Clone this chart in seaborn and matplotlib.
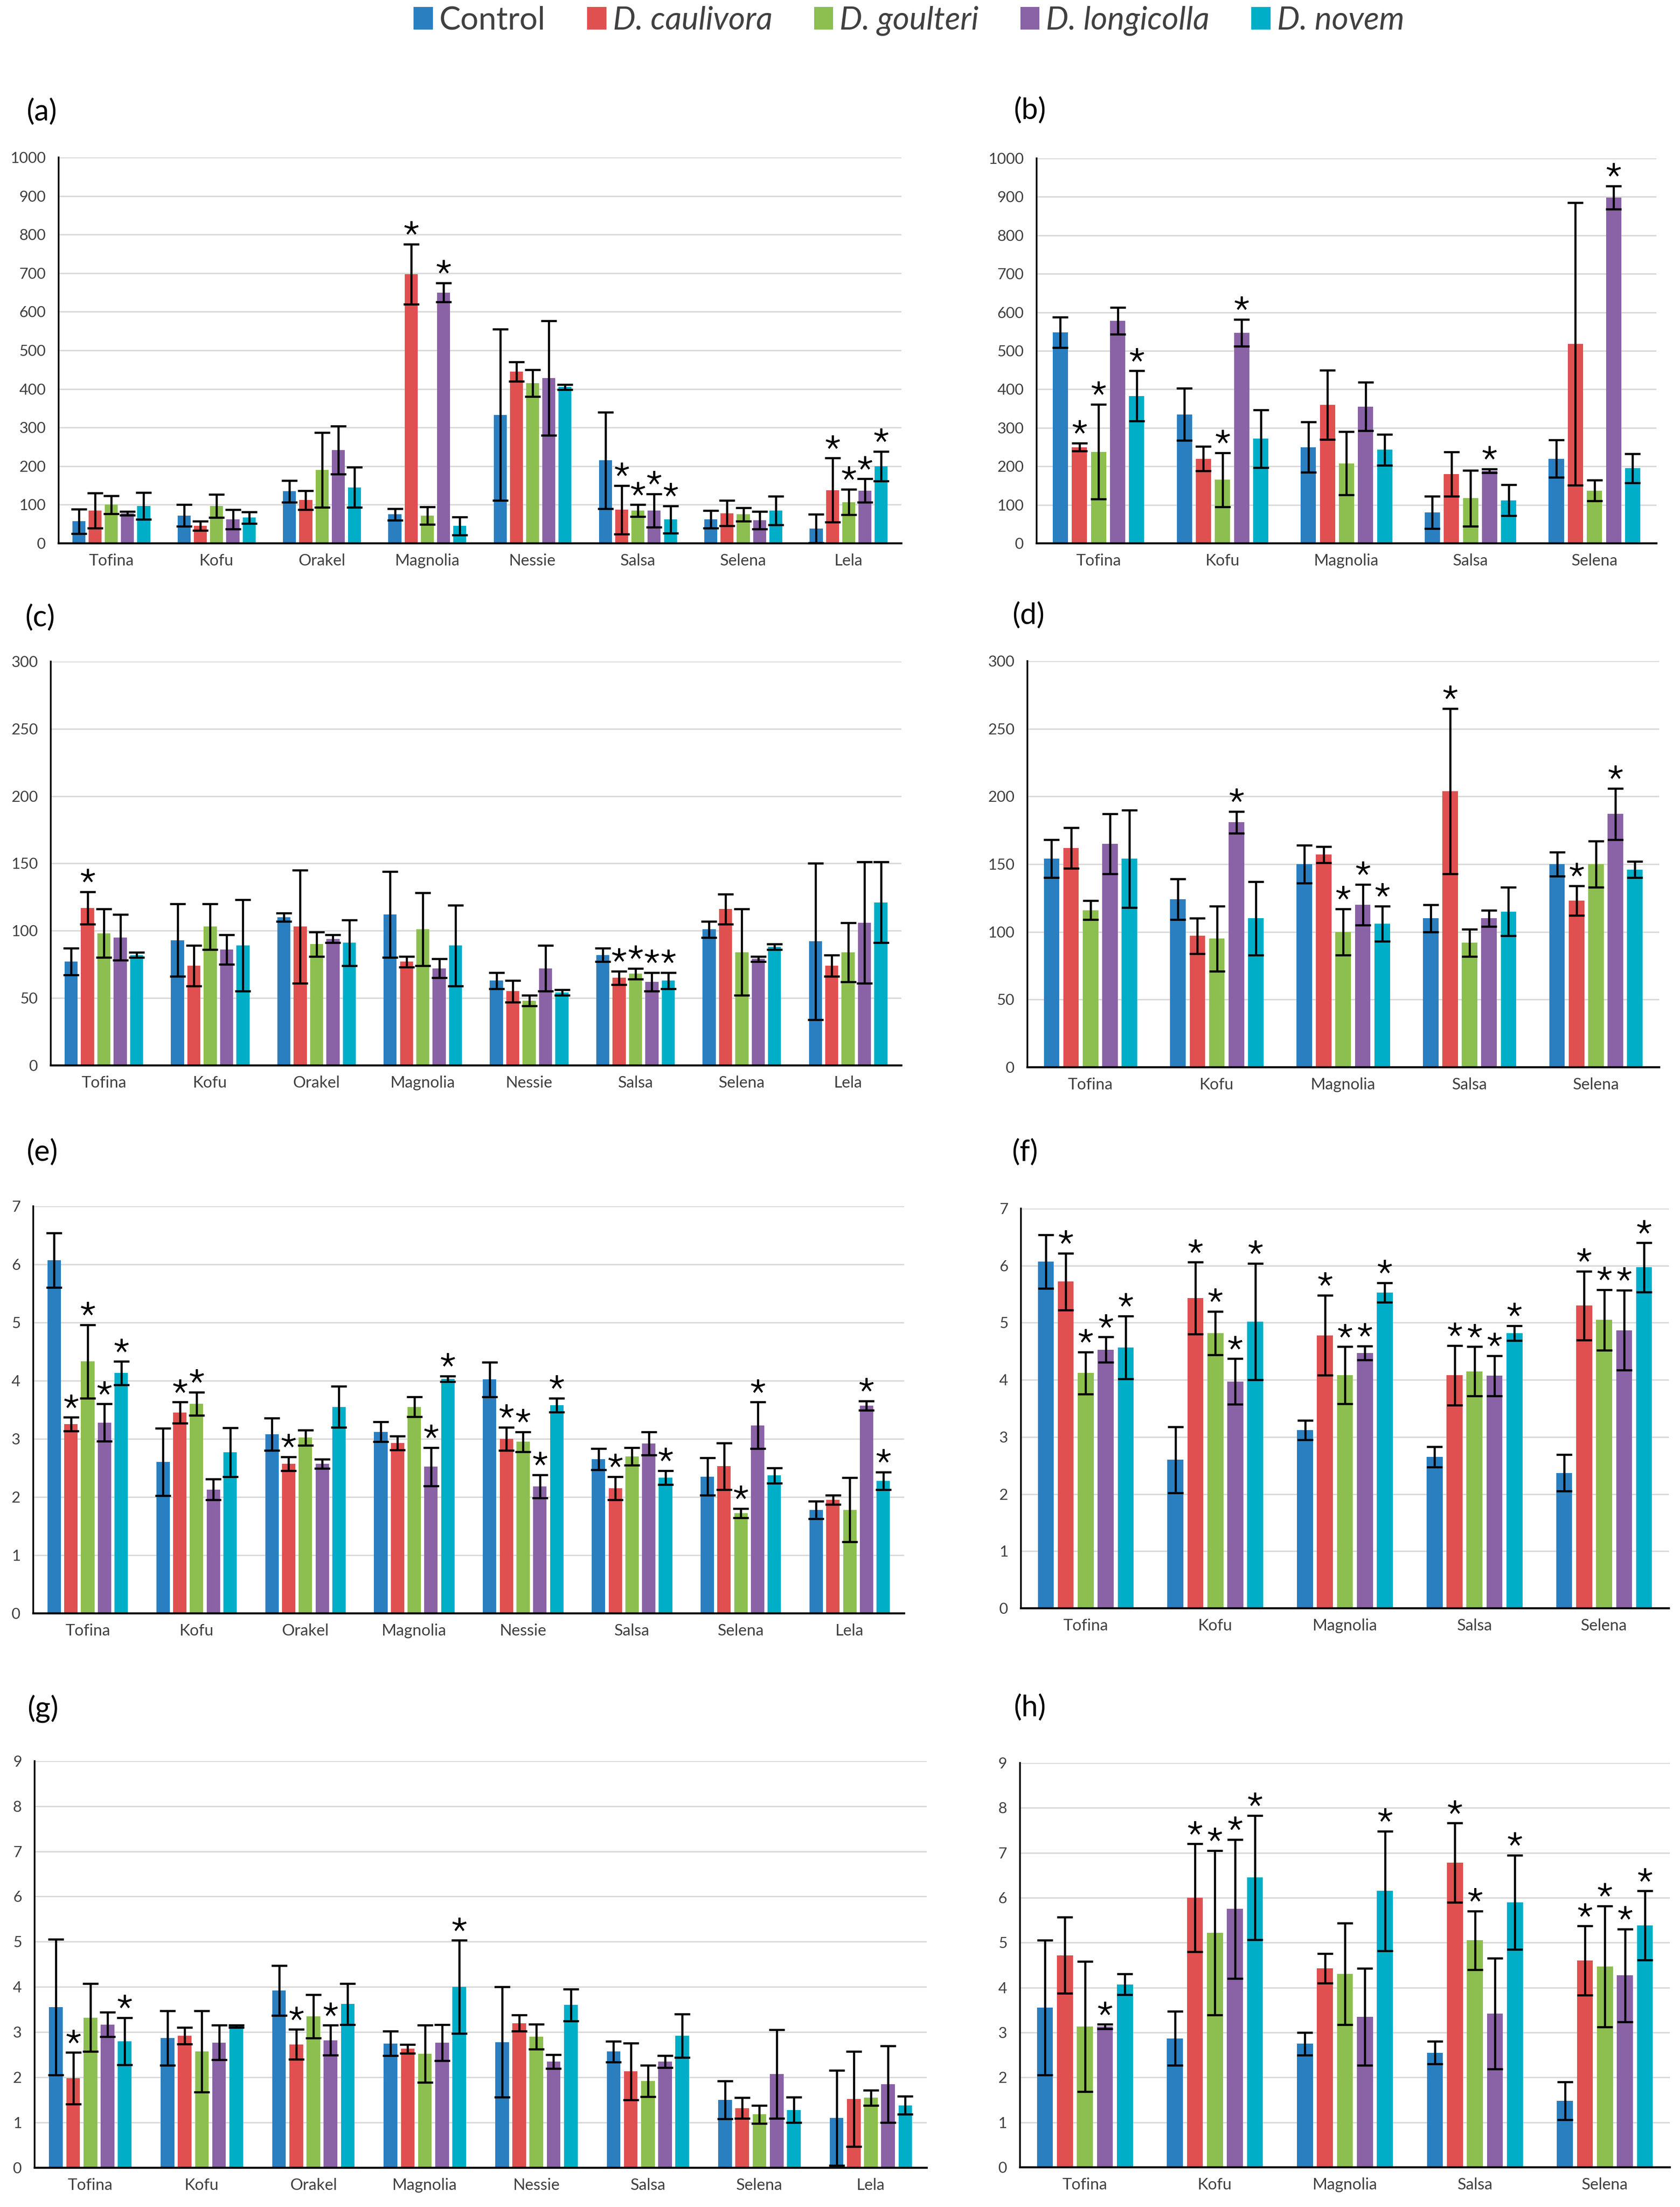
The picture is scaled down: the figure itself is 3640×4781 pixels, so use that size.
import numpy as np
import pandas as pd
import seaborn as sns
import matplotlib.pyplot as plt
import matplotlib.transforms as mtransforms
from matplotlib.patches import Patch

sns.set_theme(style='white')
plt.rcParams['font.family'] = ['Lato', 'DejaVu Sans']

# 系列・カテゴリ
treatments = ['Control', 'D. caulivora', 'D. goulteri', 'D. longicolla', 'D. novem']
colors = ['#2a7fc1', '#e05050', '#8cbf4f', '#8a62a6', '#00aec8']
cult8 = ['Tofina', 'Kofu', 'Orakel', 'Magnolia', 'Nessie', 'Salsa', 'Selena', 'Lela']
cult5 = ['Tofina', 'Kofu', 'Magnolia', 'Salsa', 'Selena']

# (a) 行 = treatments の順
a_mean = [[57, 72, 135, 75, 333, 215, 62, 38],
          [85, 45, 112, 697, 445, 87, 78, 138],
          [100, 97, 190, 72, 415, 85, 75, 107],
          [78, 62, 242, 650, 428, 85, 60, 137],
          [97, 67, 145, 45, 405, 62, 85, 200]]
a_err = [[32, 28, 28, 15, 222, 125, 23, 37],
         [45, 12, 25, 78, 25, 63, 33, 83],
         [23, 30, 97, 23, 35, 15, 17, 33],
         [5, 25, 62, 25, 148, 43, 23, 30],
         [35, 15, 52, 23, 7, 35, 37, 38]]
a_sig = [[0, 0, 0, 0, 0, 0, 0, 0],
         [0, 0, 0, 1, 0, 1, 0, 1],
         [0, 0, 0, 0, 0, 1, 0, 1],
         [0, 0, 0, 1, 0, 1, 0, 1],
         [0, 0, 0, 0, 0, 1, 0, 1]]

# (b)
b_mean = [[548, 335, 250, 80, 220],
          [250, 220, 360, 180, 518],
          [238, 165, 208, 117, 137],
          [578, 547, 355, 188, 898],
          [383, 272, 243, 112, 195]]
b_err = [[40, 68, 65, 42, 48],
         [10, 32, 90, 58, 367],
         [123, 70, 82, 73, 27],
         [35, 35, 63, 5, 30],
         [65, 75, 40, 40, 38]]
b_sig = [[0, 0, 0, 0, 0],
         [1, 0, 0, 0, 0],
         [1, 1, 0, 0, 0],
         [0, 1, 0, 1, 1],
         [1, 0, 0, 0, 0]]

# (c)
c_mean = [[77, 93, 110, 112, 63, 82, 101, 92],
          [117, 74, 103, 77, 55, 65, 116, 74],
          [98, 103, 90, 101, 48, 68, 84, 84],
          [95, 86, 94, 72, 72, 62, 79, 106],
          [82, 89, 91, 89, 54, 63, 88, 121]]
c_err = [[10, 27, 3, 32, 6, 5, 6, 58],
         [12, 15, 42, 4, 8, 5, 11, 8],
         [18, 17, 9, 27, 4, 4, 32, 22],
         [17, 11, 3, 7, 17, 7, 2, 45],
         [2, 34, 17, 30, 2, 6, 2, 30]]
c_sig = [[0, 0, 0, 0, 0, 0, 0, 0],
         [1, 0, 0, 0, 0, 1, 0, 0],
         [0, 0, 0, 0, 0, 1, 0, 0],
         [0, 0, 0, 0, 0, 1, 0, 0],
         [0, 0, 0, 0, 0, 1, 0, 0]]

# (d)
d_mean = [[154, 124, 150, 110, 150],
          [162, 97, 157, 204, 123],
          [116, 95, 100, 92, 150],
          [165, 181, 120, 110, 187],
          [154, 110, 106, 115, 146]]
d_err = [[14, 15, 14, 10, 9],
         [15, 13, 6, 61, 11],
         [7, 24, 17, 10, 17],
         [22, 8, 15, 6, 19],
         [36, 27, 13, 18, 6]]
d_sig = [[0, 0, 0, 0, 0],
         [0, 0, 0, 1, 1],
         [0, 0, 1, 0, 0],
         [0, 1, 1, 0, 1],
         [0, 0, 1, 0, 0]]

# (e)
e_mean = [[6.07, 2.6, 3.08, 3.12, 4.02, 2.65, 2.35, 1.78],
          [3.25, 3.45, 2.57, 2.93, 3.0, 2.15, 2.53, 1.95],
          [4.33, 3.6, 3.02, 3.55, 2.95, 2.7, 1.72, 1.78],
          [3.28, 2.13, 2.57, 2.52, 2.18, 2.92, 3.23, 3.57],
          [4.13, 2.77, 3.55, 4.03, 3.58, 2.33, 2.37, 2.28]]
e_err = [[0.47, 0.58, 0.28, 0.17, 0.3, 0.18, 0.32, 0.15],
         [0.12, 0.18, 0.12, 0.12, 0.2, 0.2, 0.4, 0.08],
         [0.63, 0.2, 0.13, 0.17, 0.17, 0.15, 0.08, 0.55],
         [0.32, 0.18, 0.08, 0.33, 0.2, 0.2, 0.4, 0.08],
         [0.2, 0.42, 0.35, 0.05, 0.12, 0.12, 0.13, 0.15]]
e_sig = [[0, 0, 0, 0, 0, 0, 0, 0],
         [1, 1, 1, 0, 1, 1, 0, 0],
         [1, 1, 0, 0, 1, 0, 1, 0],
         [1, 0, 0, 1, 1, 0, 1, 1],
         [1, 0, 0, 1, 1, 1, 0, 1]]

# (f)
f_mean = [[6.07, 2.6, 3.12, 2.65, 2.37],
          [5.72, 5.43, 4.78, 4.08, 5.3],
          [4.12, 4.82, 4.08, 4.15, 5.05],
          [4.53, 3.97, 4.47, 4.07, 4.87],
          [4.57, 5.02, 5.53, 4.82, 5.97]]
f_err = [[0.47, 0.58, 0.17, 0.18, 0.32],
         [0.5, 0.63, 0.7, 0.52, 0.6],
         [0.37, 0.38, 0.5, 0.43, 0.53],
         [0.22, 0.4, 0.12, 0.35, 0.7],
         [0.55, 1.02, 0.17, 0.13, 0.43]]
f_sig = [[0, 0, 0, 0, 0],
         [1, 1, 1, 1, 1],
         [1, 1, 1, 1, 1],
         [1, 1, 1, 1, 1],
         [1, 1, 1, 1, 1]]

# (g)
g_mean = [[3.55, 2.87, 3.92, 2.75, 2.78, 2.57, 1.5, 1.1],
          [1.98, 2.92, 2.73, 2.63, 3.2, 2.13, 1.32, 1.52],
          [3.32, 2.57, 3.35, 2.52, 2.9, 1.92, 1.18, 1.55],
          [3.17, 2.77, 2.82, 2.77, 2.35, 2.35, 2.07, 1.85],
          [2.8, 3.13, 3.62, 4.0, 3.6, 2.92, 1.28, 1.38]]
g_err = [[1.5, 0.6, 0.55, 0.27, 1.22, 0.23, 0.42, 1.05],
         [0.57, 0.18, 0.33, 0.1, 0.18, 0.63, 0.23, 1.05],
         [0.75, 0.9, 0.48, 0.63, 0.28, 0.35, 0.2, 0.17],
         [0.27, 0.38, 0.33, 0.4, 0.15, 0.13, 0.98, 0.85],
         [0.52, 0.03, 0.45, 1.03, 0.35, 0.48, 0.28, 0.2]]
g_sig = [[0, 0, 0, 0, 0, 0, 0, 0],
         [1, 0, 1, 0, 0, 0, 0, 0],
         [0, 0, 0, 0, 0, 0, 0, 0],
         [0, 0, 1, 0, 0, 0, 0, 0],
         [1, 0, 0, 1, 0, 0, 0, 0]]

# (h)
h_mean = [[3.55, 2.87, 2.75, 2.55, 1.48],
          [4.72, 6.0, 4.43, 6.78, 4.6],
          [3.13, 5.22, 4.3, 5.05, 4.47],
          [3.13, 5.75, 3.35, 3.42, 4.27],
          [4.07, 6.45, 6.15, 5.9, 5.38]]
h_err = [[1.5, 0.6, 0.25, 0.25, 0.42],
         [0.85, 1.2, 0.33, 0.88, 0.77],
         [1.45, 1.83, 1.13, 0.65, 1.35],
         [0.05, 1.55, 1.08, 1.23, 1.03],
         [0.23, 1.38, 1.33, 1.05, 0.77]]
h_sig = [[0, 0, 0, 0, 0],
         [0, 1, 0, 1, 1],
         [0, 1, 0, 1, 1],
         [1, 1, 0, 0, 1],
         [0, 1, 1, 1, 1]]

# パネル設定: (ラベル, カテゴリ, 平均, 誤差, 有意, ymax, 目盛間隔, axes位置, ラベル位置)
panels = [
    ('(a)', cult8, a_mean, a_err, a_sig, 1000, 100, [0.0349, 0.7538, 0.5016, 0.1749], (0.0247, 0.9492)),
    ('(b)', cult5, b_mean, b_err, b_sig, 1000, 100, [0.6170, 0.7538, 0.3690, 0.1745], (0.6130, 0.9498)),
    ('(c)', cult8, c_mean, c_err, c_sig, 300, 50, [0.0302, 0.5173, 0.5063, 0.1830], (0.0239, 0.7200)),
    ('(d)', cult5, d_mean, d_err, d_sig, 300, 50, [0.6115, 0.5164, 0.3761, 0.1841], (0.6120, 0.7210)),
    ('(e)', cult8, e_mean, e_err, e_sig, 7, 1, [0.0198, 0.2690, 0.5184, 0.1845], (0.0250, 0.4777)),
    ('(f)', cult5, f_mean, f_err, f_sig, 7, 1, [0.6077, 0.2713, 0.3857, 0.1811], (0.6100, 0.4777)),
    ('(g)', cult8, g_mean, g_err, g_sig, 9, 1, [0.0206, 0.0178, 0.5310, 0.1843], (0.0255, 0.2257)),
    ('(h)', cult5, h_mean, h_err, h_sig, 9, 1, [0.6071, 0.0180, 0.3869, 0.1832], (0.6130, 0.2261)),
]

fig = plt.figure(figsize=(36.4, 47.81), dpi=100)
star_shift = mtransforms.ScaledTranslation(0, 25 / 72, fig.dpi_scale_trans)

for label, cults, mean, err, sig, ymax, step, rect, lpos in panels:
    ax = fig.add_axes(rect)
    rows = []
    for t, vals in zip(treatments, mean):
        for c, v in zip(cults, vals):
            rows.append({'cultivar': c, 'value': v, 'treatment': t})
    df = pd.DataFrame(rows)

    sns.barplot(data=df, x='cultivar', y='value', hue='treatment', order=cults,
                hue_order=treatments, palette=colors, saturation=1, width=0.77,
                gap=0.2, errorbar=None, legend=False, linewidth=0, ax=ax)

    # 誤差棒と有意マーク
    for cont, errs, flags in zip(ax.containers, err, sig):
        xs = np.array([b.get_x() + b.get_width() / 2 for b in cont])
        hs = np.array([b.get_height() for b in cont])
        ax.errorbar(xs, hs, yerr=errs, fmt='none', ecolor='black', elinewidth=3.3,
                    capsize=12, capthick=3.3, zorder=4)
        flags = np.array(flags, dtype=bool)
        if flags.any():
            ax.plot(xs[flags], (hs + np.array(errs))[flags], linestyle='none',
                    marker=(5, 2, 0), markersize=22, markeredgewidth=2.8,
                    color='black', transform=ax.transData + star_shift,
                    clip_on=False, zorder=5)

    ax.set_ylim(0, ymax)
    ax.set_yticks(np.arange(0, ymax + step / 2, step))
    ax.set_xlim(-0.5, len(cults) - 0.5)
    ax.set_xlabel('')
    ax.set_ylabel('')
    ax.yaxis.grid(True, color='#d9d9d9', linewidth=2.2)
    ax.xaxis.grid(False)
    ax.set_axisbelow(True)
    for s in ['top', 'right']:
        ax.spines[s].set_visible(False)
    ax.spines['left'].set_color('black')
    ax.spines['left'].set_linewidth(2.6)
    ax.spines['bottom'].set_color('black')
    ax.spines['bottom'].set_linewidth(3.2)
    ax.tick_params(axis='y', length=0, pad=20, labelsize=24, labelcolor='#404040')
    ax.tick_params(axis='x', length=0, pad=16, labelsize=25, labelcolor='#404040')

    fig.text(lpos[0], lpos[1], label, fontsize=46, ha='center', va='center', color='black')

# 凡例
handles = [Patch(facecolor=c, edgecolor='none') for c in colors]
leg = fig.legend(handles, treatments, loc='center', bbox_to_anchor=(0.541, 0.9906),
                 ncol=5, frameon=False, fontsize=50, handlelength=0.6, handleheight=0.7,
                 handletextpad=0.2, columnspacing=1.3)
for i, txt in enumerate(leg.get_texts()):
    txt.set_color('#404040')
    if i > 0:
        txt.set_fontstyle('italic')

fig.savefig('out.png', dpi=100)
